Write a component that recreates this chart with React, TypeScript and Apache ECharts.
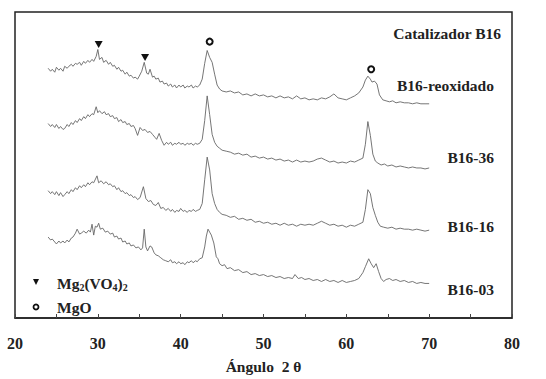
import React, { useEffect, useRef } from "react";
import * as echarts from "echarts";

// [2θ, intensity (px above baseline of plot)]
const reoxidado: [number, number][] = [
  [24.0, 253], [24.3, 250], [24.5, 252], [24.8, 249], [25.0, 254], [25.3, 251], [25.5, 253], [25.8, 250], [26.0, 255],
  [26.3, 253], [26.5, 255], [26.8, 257], [27.0, 255], [27.3, 258], [27.5, 257], [27.8, 259], [28.0, 256], [28.3, 260],
  [28.5, 258], [28.8, 261], [29.0, 259], [29.3, 262], [29.5, 260], [29.8, 265], [30.0, 272], [30.2, 262], [30.5, 264],
  [30.7, 259], [31.0, 261], [31.3, 257], [31.5, 259], [31.8, 255], [32.0, 256], [32.3, 252], [32.5, 254], [32.8, 250],
  [33.0, 251], [33.3, 247], [33.5, 249], [33.8, 245], [34.0, 246], [34.3, 243], [34.5, 244], [34.8, 242], [35.0, 245],
  [35.3, 250], [35.6, 259], [35.9, 248], [36.1, 247], [36.3, 252], [36.6, 244], [36.8, 245], [37.0, 242], [37.3, 243],
  [37.5, 239], [37.8, 240], [38.0, 237], [38.3, 238], [38.5, 235], [38.8, 237], [39.0, 234], [39.3, 236], [39.5, 233],
  [39.8, 236], [40.0, 234], [40.3, 236], [40.5, 233], [40.8, 235], [41.0, 234], [41.3, 236], [41.5, 233], [41.8, 235],
  [42.0, 234], [42.3, 236], [42.6, 242], [42.9, 258], [43.2, 271], [43.5, 264], [43.8, 259], [44.1, 247], [44.4, 236],
  [44.7, 232], [45.0, 230], [45.5, 229], [46.0, 230], [46.5, 228], [47.0, 229], [47.5, 226], [48.0, 227], [48.5, 225],
  [49.0, 227], [49.5, 225], [50.0, 226], [50.5, 224], [51.0, 225], [51.5, 223], [52.0, 225], [52.5, 223], [53.0, 224],
  [53.5, 222], [54.0, 225], [54.5, 222], [55.0, 223], [55.5, 221], [56.0, 222], [56.5, 221], [57.0, 223], [57.5, 222],
  [58.0, 224], [58.5, 227], [59.0, 223], [59.5, 222], [60.0, 221], [60.5, 223], [61.0, 225], [61.5, 228], [62.0, 234],
  [62.3, 241], [62.6, 245], [62.9, 242], [63.1, 239], [63.4, 240], [63.7, 237], [64.0, 226], [64.4, 221], [64.8, 220],
  [65.2, 219], [65.6, 220], [66.0, 218], [66.5, 219], [67.0, 218], [67.5, 218], [68.0, 217], [68.5, 218], [69.0, 217],
  [69.5, 217], [70.0, 217]
];

const b1636: [number, number][] = [
  [24.0, 197], [24.3, 194], [24.5, 196], [24.8, 193], [25.0, 196], [25.3, 192], [25.5, 194], [25.8, 191], [26.0, 192],
  [26.3, 196], [26.5, 194], [26.8, 198], [27.0, 196], [27.3, 200], [27.5, 198], [27.8, 202], [28.0, 200], [28.3, 204],
  [28.5, 202], [28.8, 206], [29.0, 204], [29.3, 207], [29.5, 206], [29.8, 214], [30.0, 208], [30.2, 210], [30.5, 207],
  [30.8, 209], [31.0, 206], [31.3, 207], [31.5, 204], [31.8, 205], [32.0, 202], [32.3, 203], [32.5, 199], [32.8, 201],
  [33.0, 198], [33.3, 199], [33.5, 196], [33.8, 197], [34.0, 194], [34.3, 195], [34.5, 192], [34.8, 185], [35.1, 193],
  [35.4, 190], [35.7, 191], [36.0, 188], [36.3, 189], [36.6, 186], [36.9, 183], [37.1, 181], [37.4, 187], [37.7, 180],
  [38.0, 175], [38.3, 178], [38.5, 176], [38.8, 178], [39.0, 175], [39.3, 177], [39.5, 176], [39.8, 178], [40.0, 176],
  [40.3, 177], [40.5, 175], [40.8, 177], [41.0, 176], [41.3, 177], [41.5, 175], [41.8, 177], [42.0, 176], [42.3, 177],
  [42.6, 181], [42.9, 200], [43.2, 225], [43.5, 206], [43.8, 186], [44.1, 178], [44.4, 174], [44.7, 172], [45.0, 170],
  [45.5, 169], [46.0, 168], [46.5, 166], [47.0, 167], [47.5, 165], [48.0, 166], [48.5, 163], [49.0, 164], [49.5, 162],
  [50.0, 163], [50.5, 161], [51.0, 162], [51.5, 160], [52.0, 161], [52.5, 159], [53.0, 160], [53.5, 158], [54.0, 160],
  [54.5, 158], [55.0, 159], [55.5, 158], [56.0, 159], [56.5, 161], [57.0, 162], [57.5, 160], [58.0, 158], [58.5, 159],
  [59.0, 157], [59.5, 158], [60.0, 157], [60.5, 159], [61.0, 158], [61.5, 160], [62.0, 162], [62.3, 176], [62.6, 199],
  [62.9, 185], [63.2, 166], [63.5, 159], [63.8, 157], [64.2, 155], [64.6, 156], [65.0, 154], [65.5, 155], [66.0, 153],
  [66.5, 154], [67.0, 153], [67.5, 152], [68.0, 153], [68.5, 152], [69.0, 152], [69.5, 151], [70.0, 152]
];

const b1616: [number, number][] = [
  [24.0, 129], [24.3, 126], [24.5, 128], [24.8, 125], [25.0, 128], [25.3, 124], [25.5, 127], [25.8, 123], [26.0, 125],
  [26.3, 128], [26.5, 126], [26.8, 130], [27.0, 128], [27.3, 132], [27.5, 130], [27.8, 134], [28.0, 132], [28.3, 135],
  [28.5, 133], [28.8, 137], [29.0, 135], [29.3, 138], [29.5, 137], [29.9, 144], [30.1, 137], [30.4, 139], [30.7, 136],
  [31.0, 138], [31.3, 135], [31.5, 136], [31.8, 133], [32.0, 134], [32.3, 130], [32.5, 132], [32.8, 128], [33.0, 129],
  [33.3, 126], [33.5, 127], [33.8, 124], [34.0, 125], [34.3, 122], [34.5, 123], [34.8, 120], [35.1, 122], [35.5, 133],
  [35.8, 121], [36.1, 118], [36.4, 119], [36.7, 115], [37.0, 114], [37.3, 117], [37.6, 111], [37.9, 112], [38.2, 109],
  [38.5, 111], [38.8, 108], [39.0, 110], [39.3, 107], [39.5, 109], [39.8, 108], [40.0, 111], [40.3, 108], [40.5, 109],
  [40.8, 107], [41.0, 109], [41.3, 108], [41.5, 110], [41.8, 108], [42.0, 109], [42.3, 110], [42.6, 116], [42.9, 140],
  [43.2, 163], [43.5, 150], [43.8, 126], [44.1, 116], [44.4, 110], [44.7, 107], [45.0, 105], [45.5, 104], [46.0, 102],
  [46.5, 103], [47.0, 100], [47.5, 101], [48.0, 99], [48.5, 100], [49.0, 97], [49.5, 98], [50.0, 96], [50.5, 97],
  [51.0, 95], [51.5, 96], [52.0, 94], [52.5, 96], [53.0, 94], [53.5, 95], [54.0, 93], [54.5, 95], [55.0, 94],
  [55.5, 95], [56.0, 94], [56.5, 96], [57.0, 98], [57.5, 96], [58.0, 94], [58.5, 95], [59.0, 93], [59.5, 94],
  [60.0, 92], [60.5, 94], [61.0, 93], [61.5, 95], [62.0, 97], [62.3, 110], [62.6, 130], [62.9, 126], [63.2, 112],
  [63.5, 104], [63.8, 97], [64.1, 93], [64.5, 92], [65.0, 91], [65.5, 92], [66.0, 90], [66.5, 91], [67.0, 90],
  [67.5, 90], [68.0, 89], [68.5, 90], [69.0, 89], [69.5, 88], [70.0, 89]
];

const b1603: [number, number][] = [
  [24.0, 82], [24.3, 79], [24.5, 80], [24.8, 77], [25.0, 75], [25.3, 78], [25.5, 76], [25.8, 78], [26.0, 76],
  [26.3, 79], [26.5, 77], [26.8, 81], [27.0, 82], [27.3, 86], [27.5, 90], [27.8, 85], [28.0, 86], [28.3, 88],
  [28.6, 86], [28.9, 89], [29.1, 87], [29.3, 95], [29.5, 84], [29.7, 93], [29.9, 92], [30.1, 96], [30.3, 90],
  [30.6, 91], [30.9, 87], [31.2, 88], [31.5, 85], [31.8, 86], [32.0, 82], [32.3, 83], [32.5, 80], [32.8, 81],
  [33.0, 77], [33.3, 78], [33.5, 75], [33.8, 76], [34.0, 73], [34.3, 74], [34.6, 71], [34.9, 72], [35.2, 69],
  [35.4, 71], [35.6, 90], [35.8, 72], [36.0, 68], [36.3, 73], [36.5, 72], [36.8, 66], [37.0, 64], [37.3, 63],
  [37.6, 61], [37.9, 59], [38.2, 58], [38.5, 57], [38.8, 59], [39.0, 56], [39.3, 57], [39.5, 55], [39.8, 57],
  [40.0, 55], [40.3, 56], [40.5, 54], [40.8, 57], [41.0, 56], [41.3, 58], [41.5, 56], [41.8, 58], [42.0, 57],
  [42.3, 60], [42.6, 61], [42.9, 72], [43.1, 83], [43.3, 90], [43.5, 87], [43.7, 84], [44.0, 76], [44.3, 62],
  [44.5, 60], [44.7, 55], [45.0, 53], [45.3, 54], [45.6, 50], [46.0, 51], [46.5, 48], [47.0, 49], [47.5, 46],
  [48.0, 47], [48.5, 44], [49.0, 45], [49.5, 43], [50.0, 44], [50.5, 42], [51.0, 43], [51.5, 41], [52.0, 42],
  [52.5, 40], [53.0, 41], [53.5, 40], [53.8, 44], [54.2, 40], [54.6, 41], [55.0, 39], [55.5, 40], [56.0, 38],
  [56.5, 39], [57.0, 37], [57.5, 39], [58.0, 37], [58.5, 38], [59.0, 36], [59.5, 38], [60.0, 36], [60.5, 37],
  [61.0, 38], [61.5, 40], [62.0, 46], [62.3, 52], [62.7, 60], [63.0, 55], [63.3, 51], [63.6, 55], [63.9, 47],
  [64.2, 40], [64.5, 37], [64.8, 39], [65.2, 40], [65.6, 38], [66.0, 39], [66.5, 37], [67.0, 38], [67.5, 36],
  [68.0, 37], [68.5, 35], [69.0, 36], [69.5, 35], [70.0, 35]
];

const seriesNames = ["B16-reoxidado", "B16-36", "B16-16", "B16-03"];
const seriesData = [reoxidado, b1636, b1616, b1603];

// phase markers: [2θ, height]
const vanadatePeaks: [number, number][] = [[30.1, 277], [35.7, 264]];
const mgoPeaks: [number, number][] = [[43.5, 280], [63.0, 252]];

const serif = "Liberation Serif, Times New Roman, serif";

export default function App() {
  const ref = useRef<HTMLDivElement>(null);
  useEffect(() => {
    if (!ref.current) return;
    const chart = echarts.init(ref.current, undefined, { renderer: "svg" });
    const labelStyle = { fontFamily: serif, fontWeight: "bold" as const, fontSize: 15.5, fill: "#222" };
    const series: any[] = seriesData.map((d, i) => ({
      name: seriesNames[i],
      type: "line",
      data: d,
      symbol: "none",
      lineStyle: { color: "#666", width: 0.9 },
      silent: true,
      z: 2,
    }));
    series[0].markPoint = {
      silent: true,
      label: { show: false },
      data: [
        ...vanadatePeaks.map((c) => ({
          coord: c,
          symbol: "triangle",
          symbolRotate: 180,
          symbolSize: [8, 7],
          itemStyle: { color: "#111" },
        })),
        ...mgoPeaks.map((c) => ({
          coord: c,
          symbol: "circle",
          symbolSize: 6,
          itemStyle: { color: "#fff", borderColor: "#111", borderWidth: 2 },
        })),
      ],
    };
    const rightLabel = (text: string, x: number, y: number) => ({
      type: "text",
      x,
      y,
      style: { ...labelStyle, text, align: "right", verticalAlign: "middle" },
    });
    chart.setOption({
      animation: false,
      backgroundColor: "#fff",
      grid: {
        left: 15,
        right: 34,
        top: 12,
        bottom: 57,
        show: true,
        borderColor: "#222",
        borderWidth: 1.5,
        backgroundColor: "transparent",
      },
      xAxis: {
        type: "value",
        min: 20,
        max: 80,
        interval: 10,
        name: "Ángulo  2 θ",
        nameLocation: "middle",
        nameGap: 40,
        nameTextStyle: { fontFamily: serif, fontWeight: "bold", fontSize: 15.5, color: "#222" },
        axisLine: { show: true, lineStyle: { color: "#222", width: 1.5 } },
        axisTick: { show: true, inside: true, length: 4, lineStyle: { color: "#444" } },
        minorTick: { show: true, splitNumber: 2, length: 4, lineStyle: { color: "#444" } },
        splitLine: { show: false },
        axisLabel: { fontFamily: serif, fontWeight: "bold", fontSize: 16, color: "#222", margin: 17 },
      },
      yAxis: {
        type: "value",
        min: 0,
        max: 310,
        show: false,
        splitLine: { show: false },
      },
      graphic: [
        rightLabel("Catalizador B16", 501, 33),
        rightLabel("B16-reoxidado", 494, 85),
        rightLabel("B16-36", 494, 157),
        rightLabel("B16-16", 494, 226),
        rightLabel("B16-03", 494, 289),
        {
          type: "polygon",
          shape: { points: [[33, 279], [39, 279], [36, 285]] },
          style: { fill: "#111" },
        },
        {
          type: "text",
          x: 57,
          y: 283,
          style: {
            text: "Mg{s|2}(VO{s|4}){s|2}",
            ...labelStyle,
            verticalAlign: "middle",
            rich: {
              s: { fontFamily: serif, fontWeight: "bold", fontSize: 10, fill: "#222", padding: [8, 0, 0, 0] },
            },
          },
        },
        {
          type: "circle",
          shape: { cx: 36, cy: 307, r: 2.5 },
          style: { fill: "#fff", stroke: "#111", lineWidth: 1.8 },
        },
        { type: "text", x: 57, y: 307, style: { ...labelStyle, text: "MgO", verticalAlign: "middle" } },
      ],
      series,
    });
    return () => chart.dispose();
  }, []);
  return (
    <div
      ref={ref}
      style={{ position: "fixed", left: 0, top: 0, width: 546, height: 379, background: "#fff" }}
    />
  );
}
